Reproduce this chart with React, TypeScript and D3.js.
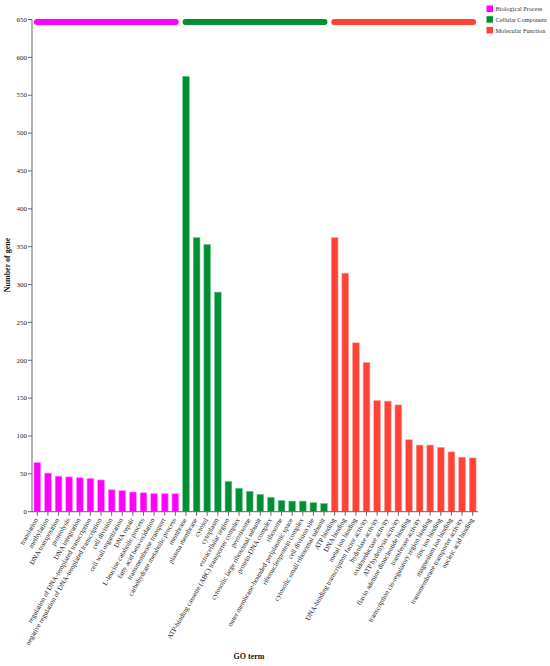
import React from "react";
import * as d3 from "d3";

const bpTerms = [
  "translation",
  "methylation",
  "DNA transposition",
  "proteolysis",
  "DNA integration",
  "regulation of DNA-templated transcription",
  "negative regulation of DNA-templated transcription",
  "cell division",
  "cell wall organization",
  "DNA repair",
  "L-leucine catabolic process",
  "fatty acid beta-oxidation",
  "transmembrane transport",
  "carbohydrate metabolic process",
];
const bpValues = [65, 51, 47, 46, 45, 44, 42, 29, 28, 26, 25, 24, 24, 24];

const ccTerms = [
  "membrane",
  "plasma membrane",
  "cytosol",
  "cytoplasm",
  "extracellular region",
  "ATP-binding cassette (ABC) transporter complex",
  "peroxisome",
  "cytosolic large ribosomal subunit",
  "protein-DNA complex",
  "ribosome",
  "outer membrane-bounded periplasmic space",
  "ribonucleoprotein complex",
  "cell division site",
  "cytosolic small ribosomal subunit",
];
const ccValues = [575, 362, 353, 290, 40, 31, 27, 23, 19, 15, 14, 14, 12, 11];

const mfTerms = [
  "ATP binding",
  "DNA binding",
  "metal ion binding",
  "DNA-binding transcription factor activity",
  "hydrolase activity",
  "oxidoreductase activity",
  "ATP hydrolysis activity",
  "flavin adenine dinucleotide binding",
  "transferase activity",
  "transcription cis-regulatory region binding",
  "zinc ion binding",
  "magnesium ion binding",
  "transmembrane transporter activity",
  "nucleic acid binding",
];
const mfValues = [362, 315, 223, 197, 147, 146, 141, 95, 88, 88, 85, 79, 72, 71];

const groupNames = ["Biological Process", "Cellular Component", "Molecular Function"];
const groupColors = ["#ff00ff", "#008f35", "#ff4136"];
const groupStrokes = ["#ff9cff", "#80cc99", "#ffa59e"];
const yTicks = d3.range(0, 651, 50);

const font = "'Times New Roman', 'Liberation Serif', serif";

export default function App() {
  const width = 550;
  const height = 666;

  const groups = [
    { name: groupNames[0], terms: bpTerms, values: bpValues },
    { name: groupNames[1], terms: ccTerms, values: ccValues },
    { name: groupNames[2], terms: mfTerms, values: mfValues },
  ];

  const rows = groups.flatMap((g, gi) =>
    g.terms.map((t, i) => ({ key: `${gi}-${t}`, term: t, value: g.values[i], group: gi }))
  );

  const x = d3
    .scaleBand()
    .domain(rows.map((r) => r.key))
    .range([32, 478])
    .paddingInner(0.36)
    .paddingOuter(0.18);

  const y = d3.scaleLinear().domain([0, 650]).range([511.7, 19.5]);
  const bw = x.bandwidth();

  return (
    <svg
      width={width}
      height={height}
      style={{ position: "absolute", left: 0, top: 0, background: "#fff" }}
      fontFamily={font}
    >
      {/* group bars on top */}
      {groups.map((g, gi) => {
        const first = x(`${gi}-${g.terms[0]}`)!;
        const last = x(`${gi}-${g.terms[g.terms.length - 1]}`)! + bw;
        return (
          <line
            key={g.name}
            x1={first + 3}
            x2={last - 3}
            y1={22}
            y2={22}
            stroke={groupColors[gi]}
            strokeWidth={6}
            strokeLinecap="round"
          />
        );
      })}

      {/* bars */}
      {rows.map((r) => (
        <rect
          key={r.key}
          x={x(r.key)}
          y={y(r.value)}
          width={bw}
          height={y(0) - y(r.value)}
          fill={groupColors[r.group]}
          stroke={groupStrokes[r.group]}
          strokeWidth={0.6}
        />
      ))}

      {/* y axis */}
      <line x1={32} x2={32} y1={y(0)} y2={y(650)} stroke="#666" strokeWidth={1} />
      {yTicks.map((t) => (
        <g key={t} transform={`translate(32,${y(t)})`}>
          <line x1={-4} x2={0} stroke="#666" />
          <text x={-5} dy="0.32em" textAnchor="end" fontSize={7} fill="#222">
            {t}
          </text>
        </g>
      ))}
      <text
        transform={`translate(10,265) rotate(-90)`}
        textAnchor="middle"
        fontSize={8}
        fontWeight="bold"
        fill="#111"
      >
        Number of gene
      </text>

      {/* x axis */}
      <line x1={32} x2={478} y1={y(0)} y2={y(0)} stroke="#666" strokeWidth={1} />
      {rows.map((r) => {
        const cx = x(r.key)! + bw / 2;
        return (
          <g key={r.key} transform={`translate(${cx},${y(0)})`}>
            <line y1={0} y2={4} stroke="#666" />
            <text
              transform="translate(1,8) rotate(-60)"
              textAnchor="end"
              fontSize={7}
              fill="#222"
            >
              {r.term}
            </text>
          </g>
        );
      })}
      <text x={249} y={659} textAnchor="middle" fontSize={8} fontWeight="bold" fill="#111">
        GO term
      </text>

      {/* legend */}
      {groupNames.map((n, i) => (
        <g key={n} transform={`translate(486.5,${5.5 + i * 10.7})`}>
          <rect width={6.5} height={6.5} fill={groupColors[i]} />
          <text x={9} y={5.6} fontSize={6.3} fill="#333">
            {n}
          </text>
        </g>
      ))}
    </svg>
  );
}
